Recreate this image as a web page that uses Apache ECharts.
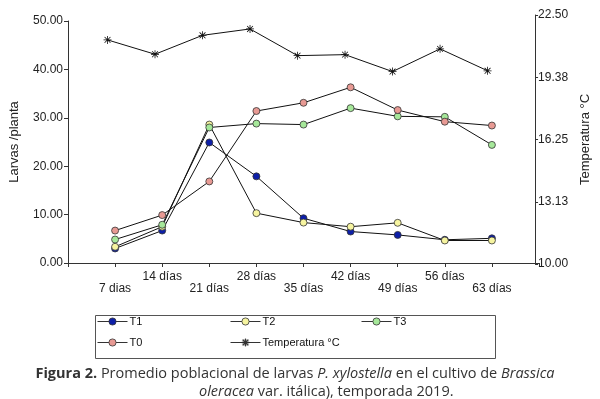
<!DOCTYPE html>
<html>
<head>
<meta charset="utf-8">
<script src="https://cdn.jsdelivr.net/npm/echarts@6/dist/echarts.min.js"></script>
<style>
  html, body { margin: 0; padding: 0; background: #fff; }
  #chart { width: 600px; height: 399px; }
</style>
</head>
<body>
<div id="chart"></div>
<script>
// dias de muestreo y etiquetas del eje x
const dias = [7, 14, 21, 28, 35, 42, 49, 56, 63];
const etiquetas = ['7 dias', '14 días', '21 días', '28 días', '35 días', '42 días', '49 días', '56 días', '63 días'];

// larvas por planta
const t1 = [3.0, 6.7, 24.9, 17.9, 9.25, 6.5, 5.8, 4.8, 5.1];
const t2 = [3.35, 7.5, 28.6, 10.3, 8.35, 7.5, 8.3, 4.65, 4.65];
const t3 = [4.85, 7.9, 28.0, 28.8, 28.6, 32.0, 30.3, 30.2, 24.4];
const t0 = [6.7, 9.9, 16.85, 31.4, 33.1, 36.3, 31.6, 29.2, 28.4];
// temperatura °C
const temp = [21.25, 20.53, 21.48, 21.8, 20.46, 20.51, 19.66, 20.8, 19.7];

// ticks del eje derecho
const ticksTemp = [10.0, 13.13, 16.25, 19.38, 22.5];

const font = 'Liberation Sans';
const asterisco = 'path://M4.5,0h1v10h-1z M0,4.5h10v1h-10z M1,1.7L1.7,1L9,8.3L8.3,9z M8.3,1L9,1.7L1.7,9L1,8.3z';

function pares(vals) {
  return dias.map((d, i) => [d, vals[i]]);
}

function serieLarvas(name, vals, color) {
  return {
    name: name,
    type: 'line',
    xAxisIndex: 0,
    yAxisIndex: 0,
    data: pares(vals),
    symbol: 'circle',
    symbolSize: 7,
    lineStyle: { color: '#111', width: 1 },
    itemStyle: { color: color, borderColor: '#333', borderWidth: 0.8 },
    emphasis: { disabled: true }
  };
}

const legendaBase = {
  orient: 'vertical', top: 316, padding: 0,
  itemWidth: 30, itemHeight: 9, itemGap: 10,
  lineStyle: { width: 1, color: '#333' },
  itemStyle: { borderWidth: 0.8, borderColor: '#333' },
  textStyle: { fontFamily: font, fontSize: 11, color: '#111', padding: [0, 0, 0, -3] }
};

let myChart = echarts.init(document.getElementById('chart'));

let option = {
  animation: false,
  textStyle: { fontFamily: font },
  grid: [
    { left: 60, right: 61, top: 21, bottom: 136 },
    { left: 60, right: 61, top: 15, bottom: 135 }
  ],
  xAxis: [
    {
      type: 'value', gridIndex: 0, min: 0, max: 70, interval: 7,
      splitLine: { show: false },
      axisLine: { onZero: false, lineStyle: { color: '#333', width: 1 } },
      axisTick: { length: 4, lineStyle: { color: '#333' } },
      axisLabel: {
        fontFamily: font, color: '#222', fontSize: 12, margin: 8, lineHeight: 12,
        formatter: function (v) {
          let i = dias.indexOf(v);
          if (i < 0) return '';
          return i % 2 === 0 ? '\n' + etiquetas[i] : etiquetas[i];
        }
      }
    },
    {
      type: 'value', gridIndex: 1, min: 0, max: 70, show: false,
      axisLine: { onZero: false }
    }
  ],
  yAxis: [
    {
      type: 'value', gridIndex: 0, min: 0, max: 50, interval: 10,
      name: 'Larvas /planta', nameLocation: 'middle', nameGap: 47,
      nameTextStyle: { fontFamily: font, fontSize: 13, color: '#222' },
      splitLine: { show: false },
      axisLine: { show: true, onZero: false, lineStyle: { color: '#333' } },
      axisTick: { show: true, length: 4, lineStyle: { color: '#333' } },
      axisLabel: { fontFamily: font, color: '#222', fontSize: 12, margin: 5, formatter: v => v.toFixed(2) }
    },
    {
      type: 'value', gridIndex: 1, position: 'right', min: 10, max: 22.5, interval: 3.125,
      name: 'Temperatura °C', nameLocation: 'middle', nameGap: 42,
      nameTextStyle: { fontFamily: font, fontSize: 13, color: '#222' },
      splitLine: { show: false },
      axisLine: { show: true, onZero: false, lineStyle: { color: '#333' } },
      axisTick: { show: true, length: 3, lineStyle: { color: '#333' } },
      axisLabel: {
        fontFamily: font, color: '#222', fontSize: 12, margin: 3,
        formatter: function (v) {
          let best = ticksTemp.reduce((a, b) => Math.abs(b - v) < Math.abs(a - v) ? b : a);
          return best.toFixed(2);
        }
      }
    }
  ],
  legend: [
    Object.assign({ data: ['T1', 'T0'], left: 97 }, legendaBase),
    Object.assign({ data: ['T2', 'Temperatura °C'], left: 230 }, legendaBase),
    Object.assign({ data: ['T3'], left: 361 }, legendaBase)
  ],
  graphic: [
    {
      type: 'rect', left: 93, top: 313, z: -1,
      shape: { width: 400, height: 43 },
      style: { fill: 'none', stroke: '#555', lineWidth: 1 }
    },
    {
      type: 'text', x: 295, y: 366,
      style: {
        text: '{b|Figura 2.} Promedio poblacional de larvas {i|P. xylostella} en el cultivo de {i|Brassica}',
        fontFamily: 'Open Sans', fontSize: 14.5, fill: '#333', align: 'center',
        rich: {
          b: { fontWeight: 'bold', fontFamily: 'Open Sans', fontSize: 14.5, fill: '#333' },
          i: { fontStyle: 'italic', fontFamily: 'Open Sans', fontSize: 14.5, fill: '#333' }
        }
      }
    },
    {
      type: 'text', x: 199, y: 384,
      style: {
        text: '{i|oleracea} var. itálica), temporada 2019.',
        fontFamily: 'Open Sans', fontSize: 14.5, fill: '#333', align: 'left',
        rich: {
          i: { fontStyle: 'italic', fontFamily: 'Open Sans', fontSize: 14.5, fill: '#333' }
        }
      }
    }
  ],
  series: [
    serieLarvas('T1', t1, '#0d1fa8'),
    serieLarvas('T2', t2, '#f6f4a0'),
    serieLarvas('T3', t3, '#a6e89a'),
    serieLarvas('T0', t0, '#e89a94'),
    {
      name: 'Temperatura °C',
      type: 'line',
      xAxisIndex: 1,
      yAxisIndex: 1,
      data: pares(temp),
      symbol: asterisco,
      symbolSize: 8,
      lineStyle: { color: '#111', width: 1 },
      itemStyle: { color: '#111' },
      emphasis: { disabled: true }
    }
  ]
};

myChart.setOption(option);
</script>
</body>
</html>
